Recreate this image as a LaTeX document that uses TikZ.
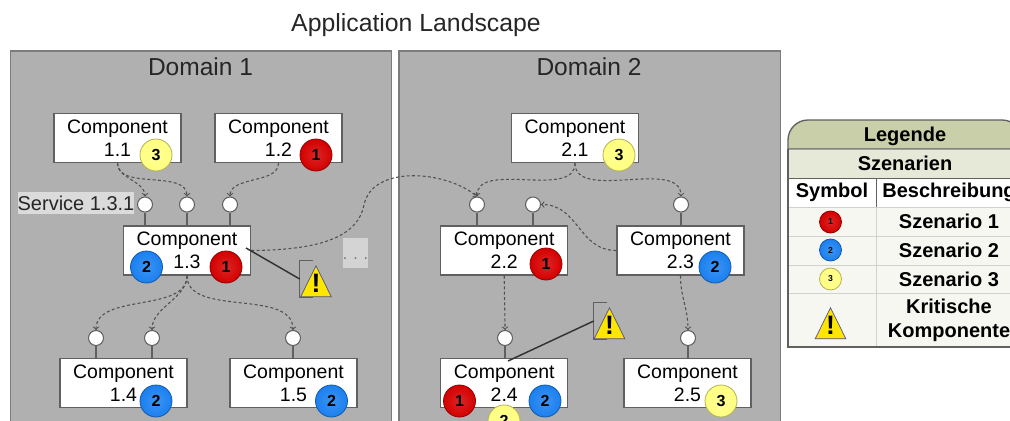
\documentclass[tikz,border=0pt]{standalone}
\usepackage{fontspec}
\setmainfont{Liberation Sans}
\usetikzlibrary{
    arrows,
    shapes,
    calc,
    positioning
}
\definecolor{domfill}{HTML}{B0B0B0}
\definecolor{domline}{HTML}{7C7C7C}
\definecolor{boxline}{HTML}{606060}
\definecolor{depline}{HTML}{505050}
\definecolor{legtitle}{HTML}{C9CFA9}
\definecolor{legsub}{HTML}{E6E9D8}
\definecolor{legrow}{HTML}{F7F7F2}
\definecolor{sevred}{HTML}{D40000}
\definecolor{sevblue}{HTML}{1A80F0}
\definecolor{sevyellow}{HTML}{FFFF80}
\definecolor{warnyellow}{HTML}{FFE600}
\tikzset{
    dombox/.style={draw=domline, fill=domfill, line width=1pt, inner sep=0pt, minimum width=286pt, minimum height=285pt},
    comp/.style={draw=boxline, fill=white, line width=1.1pt, inner sep=0pt, align=center, minimum width=95.25pt, minimum height=36.75pt,
        font=\fontsize{14.6}{17.4}\selectfont},
    port/.style={circle, draw=boxline, fill=white, line width=0.8pt, inner sep=0pt, minimum size=11.25pt},
    wire/.style={draw=boxline, line width=1.1pt},
    dep/.style={draw=depline, line width=0.8pt, dashed, dash pattern=on 2.2pt off 1.8pt, ->, >=to},
    ball/.style={circle, draw=#1!70!black, inner color=#1!85!white, outer color=#1, line width=0.6pt, inner sep=0pt, minimum size=24pt,
        font=\fontsize{12}{12}\selectfont\bfseries},
    smallball/.style={ball=#1, minimum size=16.5pt, font=\fontsize{6.5}{6.5}\selectfont\bfseries},
    warnbox/.style={inner sep=0pt, minimum width=9.75pt, minimum height=27pt},
    warntri/.style={isosceles triangle, isosceles triangle apex angle=52, isosceles triangle stretches, shape border rotate=90,
        draw=boxline!80!blue, fill=warnyellow, line width=0.5pt, inner sep=0pt, minimum width=23pt, minimum height=23.25pt, anchor=apex},
    warnmark/.style={inner sep=0pt, font=\fontsize{20}{20}\selectfont\bfseries},
    legcell/.style={draw=black!18, line width=0.6pt, inner sep=0pt, fill=legrow, align=center, font=\fontsize{15}{18}\selectfont\bfseries},
    legtext/.style={inner sep=0pt, font=\fontsize{15}{18}\selectfont\bfseries}
}
\newcommand{\warnsign}[3]{
    \node[warntri] (#1) at (#2,#3) {};
    \node[warnmark] (#1m) at ($(#1.apex)+(0,18)$) {!};
}

\begin{document}
\begin{tikzpicture}[x=0.75pt, y=-0.75pt]
    \clip (0,0) rectangle (1010,421);

    \node[font=\fontsize{18.6}{20}\selectfont, text=black!85] (title) at (416,25) {Application Landscape};

    % domains
    \node[dombox] (dom1) at (201,241) {};
    \node[dombox] (dom2) at (589.5,241) {};
    \node[font=\fontsize{18.4}{20}\selectfont, text=black!85] (dom1t) at (200.5,67) {Domain 1};
    \node[font=\fontsize{18.4}{20}\selectfont, text=black!85] (dom2t) at (589,67) {Domain 2};

    % components
    \node[comp] (c11) at (117.5,138) {Component\\1.1};
    \node[comp] (c12) at (278.5,138) {Component\\1.2};
    \node[comp] (c13) at (187,250.5) {Component\\1.3};
    \node[comp] (c14) at (123.5,383) {Component\\1.4};
    \node[comp] (c15) at (293.5,383) {Component\\1.5};
    \node[comp] (c21) at (575,138) {Component\\2.1};
    \node[comp] (c22) at (504.25,250.5) {Component\\2.2};
    \node[comp] (c23) at (680.5,250.5) {Component\\2.3};
    \node[comp] (c24) at (504.25,383) {Component\\2.4};
    \node[comp] (c25) at (687.5,383) {Component\\2.5};

    % ports
    \node[port] (p1a) at (145,204.5) {};
    \node[port] (p1b) at (187,204.5) {};
    \node[port] (p1c) at (230,204.5) {};
    \node[port] (p1d) at (96,338) {};
    \node[port] (p1e) at (152,338) {};
    \node[port] (p1f) at (293,338) {};
    \node[port] (p2a) at (477,204.5) {};
    \node[port] (p2b) at (533,204.5) {};
    \node[port] (p2c) at (681,204.5) {};
    \node[port] (p2d) at (505,338) {};
    \node[port] (p2e) at (688,338) {};

    \draw[wire]
    (p1a) -- (p1a |- c13.north)
    (p1b) -- (p1b |- c13.north)
    (p1c) -- (p1c |- c13.north)
    (p1d) -- (p1d |- c14.north)
    (p1e) -- (p1e |- c14.north)
    (p1f) -- (p1f |- c15.north)
    (p2a) -- (p2a |- c22.north)
    (p2b) -- (p2b |- c22.north)
    (p2c) -- (p2c |- c23.north)
    (p2d) -- (p2d |- c24.north)
    (p2e) -- (p2e |- c25.north);

    % service label and the grey dots
    \node[fill=black!14, inner sep=0pt, minimum width=87pt, minimum height=17pt, font=\fontsize{15}{15}\selectfont, text=black!85] (svc) at (76,203) {Service 1.3.1};
    \node[fill=black!17, inner sep=0pt, minimum width=18.75pt, minimum height=22.5pt, font=\fontsize{12}{12}\selectfont, text=black!55, text depth=0pt] (more) at (355.5,253) {\raisebox{-5pt}{. . .}};

    % dependencies
    \coordinate (hop) at (364,205);
    \draw[dep]
    (c11) edge[out=-90, in=90, looseness=0.9] (p1a)
    (c11) edge[out=-90, in=90, looseness=0.9] (p1b)
    (c12) edge[out=-90, in=90, looseness=0.9] (p1c)
    (c13) edge[out=-90, in=90, looseness=0.9] (p1d)
    (c13) edge[out=-90, in=90, looseness=0.9] (p1e)
    (c13) edge[out=-90, in=90, looseness=0.9] (p1f)
    (c21) edge[out=-90, in=90, looseness=0.9] (p2a)
    (c21) edge[out=-90, in=90, looseness=0.9] (p2c)
    (c22) edge[out=-90, in=90] (p2d)
    (c23) edge[out=-90, in=90] (p2e)
    (c23) edge[out=180, in=0, looseness=1.1] (p2b);
    \draw[dep] (c13.east) .. controls (325,250) and (358,235) .. (hop) .. controls (372,165) and (445,170) .. (p2a.north);

    % badges
    \node[ball=sevyellow] (b11) at (156,155) {3};
    \node[ball=sevred] (b12) at (316,155) {1};
    \node[ball=sevblue] (b13a) at (146.5,267) {2};
    \node[ball=sevred] (b13b) at (226,267) {1};
    \node[ball=sevblue] (b14) at (156,401) {2};
    \node[ball=sevblue] (b15) at (331.5,401) {2};
    \node[ball=sevyellow] (b21) at (619,155) {3};
    \node[ball=sevred] (b22) at (546,264) {1};
    \node[ball=sevblue] (b23) at (715,267) {2};
    \node[ball=sevyellow] (b24c) at (504,421) {2};
    \node[ball=sevred] (b24a) at (459.5,401) {1};
    \node[ball=sevblue] (b24b) at (545,401) {2};
    \node[ball=sevyellow] (b25) at (721,401) {3};

    % critical components
    \node[warnbox] (w1) at (306.5,279) {};
    \node[warnbox] (w2) at (600.5,321) {};
    \draw[wire] (w1.north east) -- (w1.north west) -- (w1.south west) -- (w1.south east);
    \draw[wire] (w2.north east) -- (w2.north west) -- (w2.south west) -- (w2.south east);
    \coordinate (c13s) at (246,248);
    \coordinate (c24s) at (508,361);
    \draw[wire, draw=black!80] (c13s) -- (w1.west);
    \draw[wire, draw=black!80] (c24s) -- (w2.west);
    \warnsign{t1}{316}{265}
    \warnsign{t2}{609.5}{307}

    % legend
    \draw[draw=boxline, fill=legtitle, line width=1pt] (788,149) [rounded corners=15pt] -- (788,120) -- (1022,120) [sharp corners] -- (1022,149) -- cycle;
    \node[legtext] (legt) at (905,136) {Legende};
    \node[legcell, fill=legsub, draw=boxline!60, minimum width=175.5pt, minimum height=21.75pt] (legs) at (905,163.5) {Szenarien};
    \node[legcell, fill=white, draw=boxline, minimum width=66pt, minimum height=21.75pt] (legh1) at (832,192.5) {Symbol};
    \node[legcell, fill=white, draw=boxline, minimum width=109.5pt, minimum height=21.75pt] (legh2) at (949,192.5) {Beschreibung};
    \node[legcell, minimum width=66pt, minimum height=21.75pt] (r1a) at (832,221.5) {};
    \node[legcell, minimum width=109.5pt, minimum height=21.75pt] (r1b) at (949,221.5) {Szenario 1};
    \node[legcell, minimum width=66pt, minimum height=21.75pt] (r2a) at (832,250.5) {};
    \node[legcell, minimum width=109.5pt, minimum height=21.75pt] (r2b) at (949,250.5) {Szenario 2};
    \node[legcell, minimum width=66pt, minimum height=21.75pt] (r3a) at (832,279.5) {};
    \node[legcell, minimum width=109.5pt, minimum height=21.75pt] (r3b) at (949,279.5) {Szenario 3};
    \node[legcell, minimum width=66pt, minimum height=40.5pt] (r4a) at (832,320) {};
    \node[legcell, minimum width=109.5pt, minimum height=40.5pt] (r4b) at (949,320) {Kritische\\Komponente};
    \draw[draw=boxline, line width=1pt] (788,149) -- (788,347) -- (1022,347);
    \node[smallball=sevred] (l1) at (830.5,222) {1};
    \node[smallball=sevblue] (l2) at (830.5,250) {2};
    \node[smallball=sevyellow] (l3) at (830.5,279) {3};
    \warnsign{t3}{830.5}{307}
\end{tikzpicture}
\end{document}
